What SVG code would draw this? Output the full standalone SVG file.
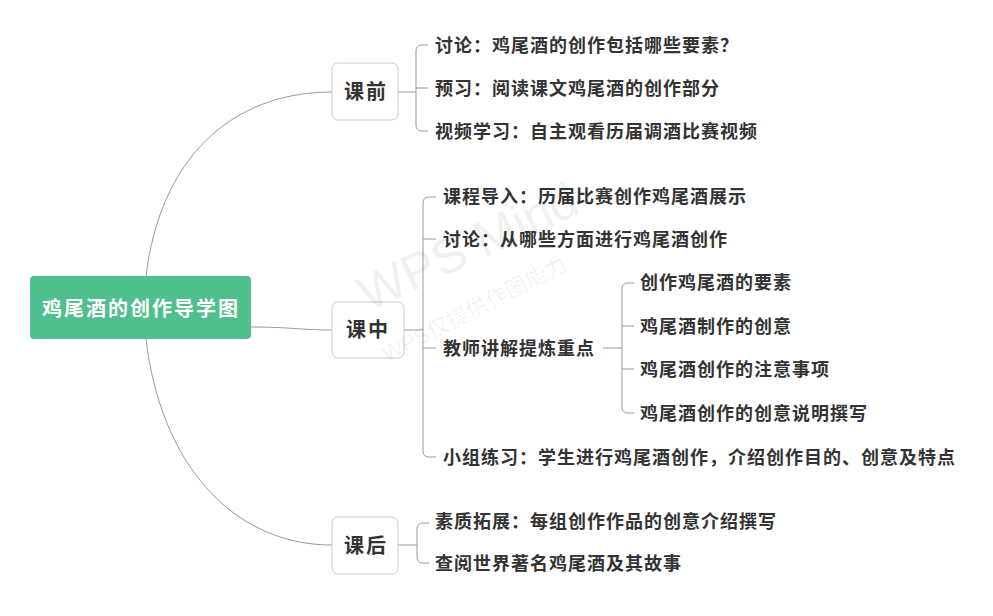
<svg xmlns="http://www.w3.org/2000/svg" width="993" height="616" viewBox="0 0 993 616">
<style>
.t{font-family:"Noto Sans CJK SC","Noto Sans",sans-serif;font-weight:bold;fill:#333;font-size:18px;letter-spacing:1px;dominant-baseline:central}
.m{font-family:"Noto Sans CJK SC",sans-serif;font-weight:bold;fill:#333;font-size:20px;letter-spacing:2px;text-anchor:middle;dominant-baseline:central}
.box{fill:#fff;stroke:#ccc;stroke-width:1}
.ln{fill:none;stroke:#999;stroke-width:1}
.wm{font-family:"Liberation Sans","Noto Sans CJK SC",sans-serif;fill:#000;fill-opacity:0.06}
</style>
<rect width="993" height="616" fill="#fff"/>
<g id="connectors" class="ln">
<path d="M146,276 C160,160 230,92 332,92"/>
<path d="M251,327 C290,327 300,330 332,330"/>
<path d="M146,339 C160,460 230,545 332,545"/>
<path d="M398,92 H416"/>
<path d="M428,45 H422 Q416,45 416,51 V125 Q416,131 422,131 H428"/>
<path d="M416,88 H428"/>
<path d="M404,330 H423"/>
<path d="M436,197 H429 Q423,197 423,203 V451 Q423,457 429,457 H436"/>
<path d="M423,239 H436"/>
<path d="M423,348 H436"/>
<path d="M603,348 H622"/>
<path d="M634,283 H628 Q622,283 622,289 V407 Q622,413 628,413 H634"/>
<path d="M622,326 H634"/>
<path d="M622,369 H634"/>
<path d="M398,545 H417"/>
<path d="M429,523 H423 Q417,523 417,529 V557 Q417,563 423,563 H429"/>
</g>
<g id="root">
<rect x="30" y="276" width="221" height="63" rx="4" fill="#4fc08d"/>
<text class="m" x="141" y="307" style="fill:#fff;font-size:20px">鸡尾酒的创作导学图</text>
</g>
<g id="n-qian">
<rect class="box" x="332" y="63" width="66" height="57" rx="6"/>
<text class="m" x="366" y="90">课前</text>
</g>
<g id="n-zhong">
<rect class="box" x="332" y="302" width="72" height="56" rx="6"/>
<text class="m" x="368" y="328">课中</text>
</g>
<g id="n-hou">
<rect class="box" x="332" y="517" width="66" height="57" rx="6"/>
<text class="m" x="366" y="544">课后</text>
</g>
<g id="q1"><text class="t" x="435" y="44">讨论：鸡尾酒的创作包括哪些要素？</text></g>
<g id="q2"><text class="t" x="435" y="87">预习：阅读课文鸡尾酒的创作部分</text></g>
<g id="q3"><text class="t" x="435" y="130">视频学习：自主观看历届调酒比赛视频</text></g>
<g id="z1"><text class="t" x="443" y="195">课程导入：历届比赛创作鸡尾酒展示</text></g>
<g id="z2"><text class="t" x="443" y="238">讨论：从哪些方面进行鸡尾酒创作</text></g>
<g id="z3"><text class="t" x="443" y="347">教师讲解提炼重点</text></g>
<g id="z3a"><text class="t" x="640" y="281">创作鸡尾酒的要素</text></g>
<g id="z3b"><text class="t" x="640" y="325">鸡尾酒制作的创意</text></g>
<g id="z3c"><text class="t" x="640" y="368">鸡尾酒创作的注意事项</text></g>
<g id="z3d"><text class="t" x="640" y="412">鸡尾酒创作的创意说明撰写</text></g>
<g id="z4"><text class="t" x="443" y="456">小组练习：学生进行鸡尾酒创作，介绍创作目的、创意及特点</text></g>
<g id="h1"><text class="t" x="435" y="520">素质拓展：每组创作作品的创意介绍撰写</text></g>
<g id="h2"><text class="t" x="435" y="562">查阅世界著名鸡尾酒及其故事</text></g>
<g id="watermark" class="wm">
<text x="368" y="312" font-size="50" transform="rotate(-25 368 312)">WPS Mind</text>
<text x="387" y="362" font-size="22" transform="rotate(-27 387 362)">WPS仅提供作图能力</text>
</g>
</svg>
